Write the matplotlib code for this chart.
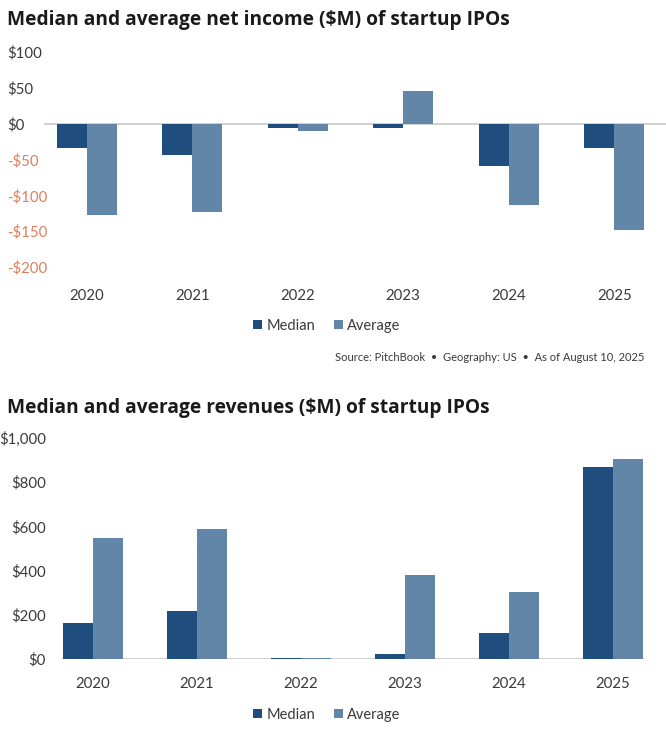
import numpy as np
import matplotlib.pyplot as plt

plt.rcParams['font.family'] = ['Lato', 'DejaVu Sans']

years = ['2020', '2021', '2022', '2023', '2024', '2025']
income_median = [-34, -44, -6, -6, -59, -34]
income_average = [-127, -123, -10, 45, -113, -148]
revenue_median = [163, 216, 4, 21, 118, 867]
revenue_average = [546, 587, 3, 379, 302, 904]

income_ticks = [100, 50, 0, -50, -100, -150, -200]
revenue_ticks = [0, 200, 400, 600, 800, 1000]

c_median = '#1f4e7e'
c_avg = '#6286a8'
c_text = '#3a3a3a'
c_neg = '#e07f5a'

fig = plt.figure(figsize=(6.66, 7.30), dpi=100)
x = np.arange(len(years))
w = 0.285

# --- top chart: net income
ax1 = fig.add_axes([34 / 666, 1 - 267 / 730, 633 / 666, 215 / 730])
ax1.bar(x - w / 2, income_median, w, color=c_median, label='Median')
ax1.bar(x + w / 2, income_average, w, color=c_avg, label='Average')
ax1.axhline(0, xmin=0.017, xmax=1, color='#c8c8c8', lw=1.2, zorder=0)
ax1.set_xlim(-0.5, 5.5)
ax1.set_ylim(-200, 100)
ax1.set_yticks(income_ticks)
ax1.set_yticklabels(['$' + str(v) if v >= 0 else '-$' + str(-v) for v in income_ticks])
for lab, v in zip(ax1.get_yticklabels(), income_ticks):
    lab.set_color(c_neg if v < 0 else c_text)
    lab.set_horizontalalignment('left')
ax1.tick_params(axis='y', length=0, pad=19.5, labelsize=10.8)
ax1.set_xticks(x)
ax1.set_xticklabels(years)
ax1.tick_params(axis='x', length=0, pad=16, labelsize=10.8, labelcolor=c_text)
for s in ax1.spines.values():
    s.set_visible(False)

fig.text(7 / 666, 1 - 20 / 730, 'Median and average net income ($M) of startup IPOs',
         fontsize=13.8, fontweight='bold', color='#1a1a1a', va='center', ha='left',
         family='Open Sans')
fig.legend(*ax1.get_legend_handles_labels(), loc='center', bbox_to_anchor=(0.491, 1 - 326 / 730),
           ncol=2, frameon=False, fontsize=10.5, handlelength=0.6, handleheight=0.6,
           handletextpad=0.3, columnspacing=1.3, labelcolor=c_text)
fig.text(644 / 666, 1 - 357 / 730, 'Source: PitchBook  \u2022  Geography: US  \u2022  As of August 10, 2025',
         fontsize=8, color=c_text, ha='right', va='center')

# --- bottom chart: revenues
ax2 = fig.add_axes([41 / 666, 1 - 659 / 730, 624 / 666, 221 / 730])
ax2.bar(x - w / 2, revenue_median, w, color=c_median, label='Median')
ax2.bar(x + w / 2, revenue_average, w, color=c_avg, label='Average')
ax2.axhline(0, xmin=0.035, xmax=0.965, color='#c8c8c8', lw=1.2, zorder=0)
ax2.set_xlim(-0.5, 5.5)
ax2.set_ylim(0, 1000)
ax2.set_yticks(revenue_ticks)
ax2.set_yticklabels(['${:,}'.format(v) for v in revenue_ticks])
ax2.tick_params(axis='y', length=0, pad=-3.5, labelsize=10.8, labelcolor=c_text)
ax2.set_xticks(x)
ax2.set_xticklabels(years)
ax2.tick_params(axis='x', length=0, pad=13, labelsize=10.8, labelcolor=c_text)
for s in ax2.spines.values():
    s.set_visible(False)

fig.text(7 / 666, 1 - 408 / 730, 'Median and average revenues ($M) of startup IPOs',
         fontsize=13.8, fontweight='bold', color='#1a1a1a', va='center', ha='left',
         family='Open Sans')
fig.legend(*ax2.get_legend_handles_labels(), loc='center', bbox_to_anchor=(0.491, 1 - 715 / 730),
           ncol=2, frameon=False, fontsize=10.5, handlelength=0.6, handleheight=0.6,
           handletextpad=0.3, columnspacing=1.3, labelcolor=c_text)

fig.savefig('out.png', dpi=100)
